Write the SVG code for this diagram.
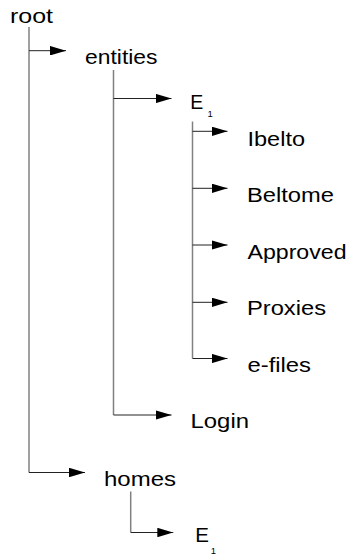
<svg xmlns="http://www.w3.org/2000/svg" width="349" height="556" viewBox="0 0 349 556">
  <style>
    text { font-family: "Liberation Sans", Arial, sans-serif; font-size: 19.5px; fill: #000; }
    .sub { font-size: 9.5px; }
    .trunk { stroke: #808080; stroke-width: 1.5; fill: none; }
    .branch { stroke: #222; stroke-width: 1; fill: none; marker-end: url(#arrow); }
  </style>
  <defs>
    <marker id="arrow" markerUnits="userSpaceOnUse" markerWidth="16" markerHeight="9.5" refX="16" refY="4.75" orient="auto" viewBox="0 0 16 9.5">
      <path d="M0,0 L16,4.75 L0,9.5 Z" fill="#000"/>
    </marker>
  </defs>

  <g id="connectors">
    <!-- vertical trunks -->
    <line class="trunk" x1="29" y1="27" x2="29" y2="472.5"/>
    <line class="trunk" x1="113.5" y1="70" x2="113.5" y2="415"/>
    <line class="trunk" x1="192.5" y1="121.5" x2="192.5" y2="358.5"/>
    <line class="trunk" x1="130.7" y1="491.5" x2="130.7" y2="532.5"/>
    <!-- horizontal branches with arrowheads -->
    <line class="branch" x1="29" y1="50.7" x2="66" y2="50.7"/>
    <line class="branch" x1="29" y1="472.5" x2="85" y2="472.5"/>
    <line class="branch" x1="113.5" y1="98.5" x2="171.5" y2="98.5"/>
    <line class="branch" x1="113.5" y1="415" x2="171.5" y2="415"/>
    <line class="branch" x1="192.5" y1="131.3" x2="227.5" y2="131.3"/>
    <line class="branch" x1="192.5" y1="188.3" x2="227.5" y2="188.3"/>
    <line class="branch" x1="192.5" y1="245" x2="227.5" y2="245"/>
    <line class="branch" x1="192.5" y1="302.3" x2="227.5" y2="302.3"/>
    <line class="branch" x1="192.5" y1="358.5" x2="227.5" y2="358.5"/>
    <line class="branch" x1="130.7" y1="532.5" x2="173.3" y2="532.5"/>
  </g>

  <g id="root"><text x="10" y="23" textLength="43" lengthAdjust="spacingAndGlyphs">root</text></g>
  <g id="entities"><text x="85" y="63.5" textLength="72.5" lengthAdjust="spacingAndGlyphs">entities</text></g>
  <g id="entity-e1"><text x="190.3" y="108.5">E</text><text class="sub" x="207.5" y="116.8">1</text></g>
  <g id="ibelto"><text x="247.5" y="145.7" textLength="57.5" lengthAdjust="spacingAndGlyphs">Ibelto</text></g>
  <g id="beltome"><text x="247" y="202.3" textLength="87" lengthAdjust="spacingAndGlyphs">Beltome</text></g>
  <g id="approved"><text x="247.5" y="259" textLength="99" lengthAdjust="spacingAndGlyphs">Approved</text></g>
  <g id="proxies"><text x="247" y="315" textLength="79" lengthAdjust="spacingAndGlyphs">Proxies</text></g>
  <g id="e-files"><text x="247.5" y="371.7" textLength="63.5" lengthAdjust="spacingAndGlyphs">e-files</text></g>
  <g id="login"><text x="190.5" y="428.3" textLength="58.5" lengthAdjust="spacingAndGlyphs">Login</text></g>
  <g id="homes"><text x="104" y="486" textLength="72" lengthAdjust="spacingAndGlyphs">homes</text></g>
  <g id="home-e1"><text x="195.2" y="541.7" style="font-size:20.5px">E</text><text class="sub" x="210.8" y="554">1</text></g>
</svg>
